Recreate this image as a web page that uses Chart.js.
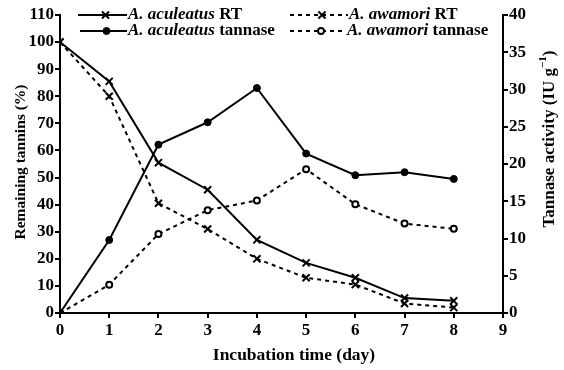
<!DOCTYPE html>
<html>
<head>
<meta charset="utf-8">
<script src="https://cdn.jsdelivr.net/npm/chart.js@4.4.0/dist/chart.umd.min.js"></script>
<style>
  body { margin: 0; background: #fff; }
  #wrap { width: 564px; height: 370px; }
</style>
</head>
<body>
<div id="wrap"><canvas id="chart" width="564" height="370"></canvas></div>
<script>
// data
const days = [0, 1, 2, 3, 4, 5, 6, 7, 8];
const aculeatusRT = [100, 85.5, 55.5, 45.5, 27, 18.5, 13, 5.5, 4.5];
const awamoriRT = [100, 80, 40.5, 31, 20, 13, 10.5, 3.5, 2];
const aculeatusTannase = [0, 9.8, 22.6, 25.6, 30.2, 21.4, 18.5, 18.9, 18];
const awamoriTannase = [0, 3.8, 10.6, 13.8, 15.1, 19.3, 14.6, 12, 11.3];

const leftTicks = [0, 10, 20, 30, 40, 50, 60, 70, 80, 90, 100, 110];
const rightTicks = [0, 5, 10, 15, 20, 25, 30, 35, 40];

const FONT = '"Liberation Serif", "Times New Roman", serif';

function pts(arr) {
    return arr.map((v, i) => ({ x: days[i], y: v }));
}

const datasets = [
    {
        label: 'A. aculeatus|RT',
        data: pts(aculeatusRT),
        yAxisID: 'y',
        borderColor: '#000', backgroundColor: '#000',
        borderWidth: 2,
        pointStyle: 'crossRot', pointRadius: 5, pointBorderWidth: 2,
        tension: 0
    },
    {
        label: 'A. awamori|RT',
        data: pts(awamoriRT),
        yAxisID: 'y',
        borderColor: '#000', backgroundColor: '#000',
        borderWidth: 2, borderDash: [4, 4],
        pointStyle: 'crossRot', pointRadius: 5, pointBorderWidth: 2,
        tension: 0
    },
    {
        label: 'A. aculeatus|tannase',
        data: pts(aculeatusTannase),
        yAxisID: 'y1',
        borderColor: '#000', backgroundColor: '#000',
        borderWidth: 2,
        pointStyle: 'circle', pointRadius: 3.5, pointBorderWidth: 1,
        tension: 0
    },
    {
        label: 'A. awamori|tannase',
        data: pts(awamoriTannase),
        yAxisID: 'y1',
        borderColor: '#000', backgroundColor: '#fff',
        borderWidth: 2, borderDash: [4, 4],
        pointStyle: 'circle', pointRadius: 3, pointBorderWidth: 2,
        tension: 0
    }
];

// legend drawn by hand: line sample with marker in the middle, italic species + plain suffix
const legendPlugin = {
    id: 'sampleLegend',
    afterDatasetsDraw(chart) {
        const ctx = chart.ctx;
        const slots = [
            { ds: 0, x1: 78, x2: 127, y: 15 },
            { ds: 1, x1: 290, x2: 348, y: 15 },
            { ds: 2, x1: 80, x2: 127, y: 31 },
            { ds: 3, x1: 290, x2: 346, y: 31 }
        ];
        ctx.save();
        slots.forEach(s => {
            const d = chart.data.datasets[s.ds];
            ctx.strokeStyle = '#000';
            ctx.lineWidth = 2;
            ctx.setLineDash(d.borderDash || []);
            ctx.beginPath();
            ctx.moveTo(s.x1, s.y);
            ctx.lineTo(s.x2, s.y);
            ctx.stroke();
            ctx.setLineDash([]);
            ctx.fillStyle = d.backgroundColor;
            ctx.lineWidth = d.pointBorderWidth;
            Chart.helpers.drawPoint(ctx, {
                pointStyle: d.pointStyle, radius: d.pointRadius, borderWidth: d.pointBorderWidth
            }, (s.x1 + s.x2) / 2 + 3, s.y);
            const [sp, rest] = d.label.split('|');
            ctx.fillStyle = '#000';
            ctx.textBaseline = 'middle';
            ctx.textAlign = 'left';
            ctx.font = 'italic bold 17px ' + FONT;
            ctx.fillText(sp, s.x2 + 1, s.y);
            const w = ctx.measureText(sp + ' ').width;
            ctx.font = 'bold 17px ' + FONT;
            ctx.fillText(rest, s.x2 + 1 + w, s.y);
        });
        ctx.restore();
    }
};

// axis titles; both y titles read bottom-to-top as in the figure
const titlePlugin = {
    id: 'axisTitles',
    afterDraw(chart) {
        const ctx = chart.ctx;
        ctx.save();
        ctx.fillStyle = '#000';
        ctx.textBaseline = 'middle';

        ctx.font = 'bold 17.5px ' + FONT;
        ctx.textAlign = 'center';
        ctx.fillText('Incubation time (day)', 294, 355);

        ctx.font = 'bold 15.5px ' + FONT;
        ctx.save();
        ctx.translate(21, 162);
        ctx.rotate(-Math.PI / 2);
        ctx.fillText('Remaining tannins (%)', 0, 0);
        ctx.restore();

        const big = 'bold 17px ' + FONT, small = 'bold 11px ' + FONT;
        const main = 'Tannase activity (IU g';
        const sup = '\u22121';
        ctx.font = big;
        const wMain = ctx.measureText(main).width;
        const wClose = ctx.measureText(')').width;
        ctx.font = small;
        const wSup = ctx.measureText(sup).width;
        const total = wMain + wSup + wClose;
        ctx.save();
        ctx.translate(550, 139);
        ctx.rotate(-Math.PI / 2);
        ctx.textAlign = 'left';
        let x = -total / 2;
        ctx.font = big;
        ctx.fillText(main, x, 0);
        x += wMain;
        ctx.font = small;
        ctx.fillText(sup, x, -7);
        x += wSup;
        ctx.font = big;
        ctx.fillText(')', x, 0);
        ctx.restore();

        ctx.restore();
    }
};

const axisCommon = {
    border: { display: true, color: '#000', width: 2 },
    grid: { display: true, drawOnChartArea: false, drawTicks: true, tickLength: 5, color: '#000', lineWidth: 2 }
};

new Chart(document.getElementById('chart'), {
    type: 'line',
    data: { datasets: datasets },
    options: {
        responsive: false,
        animation: false,
        devicePixelRatio: 1,
        layout: { padding: { top: 15, left: 0, right: 0, bottom: 0 } },
        plugins: { legend: { display: false }, tooltip: { enabled: false } },
        scales: {
            x: {
                type: 'linear', min: 0, max: 9,
                ...axisCommon,
                afterFit: s => { s.height = 57; },
                ticks: { stepSize: 1, color: '#000', padding: 2, font: { family: FONT, size: 17, weight: 'bold' } }
            },
            y: {
                type: 'linear', position: 'left', min: 0, max: 110,
                ...axisCommon,
                afterFit: s => { s.width = 60; },
                afterBuildTicks: s => { s.ticks = leftTicks.map(v => ({ value: v })); },
                ticks: { color: '#000', padding: 1, font: { family: FONT, size: 17, weight: 'bold' } }
            },
            y1: {
                type: 'linear', position: 'right', min: 0, max: 40,
                ...axisCommon,
                afterFit: s => { s.width = 61; },
                afterBuildTicks: s => { s.ticks = rightTicks.map(v => ({ value: v })); },
                ticks: { color: '#000', padding: 1, font: { family: FONT, size: 17, weight: 'bold' } }
            }
        }
    },
    plugins: [legendPlugin, titlePlugin]
});
</script>
</body>
</html>
